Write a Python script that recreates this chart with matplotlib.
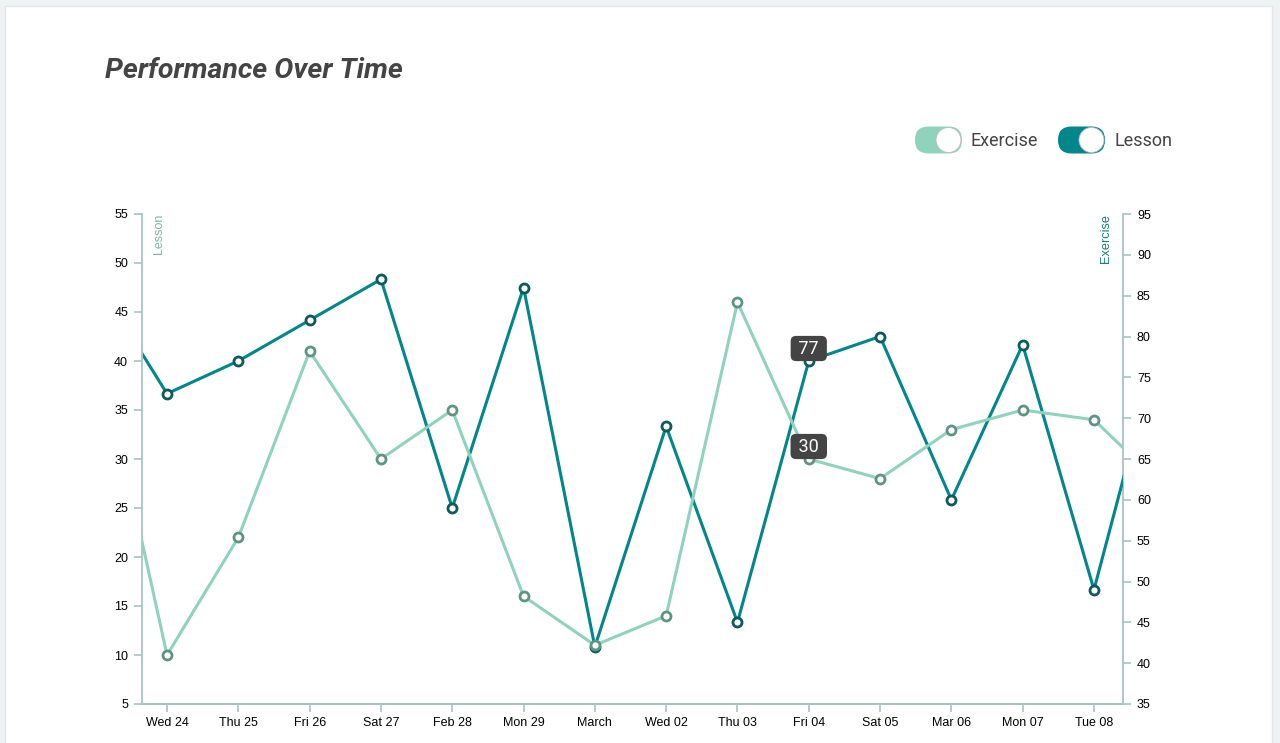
import matplotlib
matplotlib.use("Agg")
import matplotlib.pyplot as plt
from matplotlib.patches import FancyBboxPatch, Circle, Rectangle

# data
days = ["Wed 24", "Thu 25", "Fri 26", "Sat 27", "Feb 28", "Mon 29", "March",
        "Wed 02", "Thu 03", "Fri 04", "Sat 05", "Mar 06", "Mon 07", "Tue 08"]
# light line, left axis (first and last value are the clipped neighbours)
exercise = [43, 10, 22, 41, 30, 35, 16, 11, 14, 46, 30, 28, 33, 35, 34, 27]
# dark line, right axis
lesson = [87, 73, 77, 82, 87, 59, 86, 42, 69, 45, 77, 80, 60, 79, 49, 82]
xs = list(range(-1, len(days) + 1))
tip_idx = 9

c_light = "#8fd3bc"
c_dark = "#00868b"
c_axis = "#a8c4c1"
c_text = "#444444"

fig = plt.figure(figsize=(12.8, 7.43), dpi=100)
fig.patch.set_facecolor("#eef2f3")

# background card + legend drawn in pixel coords
bg = fig.add_axes([0, 0, 1, 1])
bg.set_xlim(0, 1280)
bg.set_ylim(743, 0)
bg.axis("off")
bg.add_patch(Rectangle((5, 6), 1267, 760, facecolor="white", edgecolor="#e2e6e7", lw=1))
bg.text(105, 71, "Performance Over Time", fontsize=20.5, fontweight="bold", fontstyle="italic",
        family="Roboto", color=c_text, va="center", ha="left")

def toggle(x, col, label):
    bg.add_patch(FancyBboxPatch((x, 126.5), 47, 27, boxstyle="round,pad=0,rounding_size=13.5",
                                facecolor=col, edgecolor="none"))
    bg.add_patch(Circle((x + 33.5, 140), 12.5, facecolor="white", edgecolor="#bbbbbb", lw=0.6))
    bg.text(x + 56, 141, label, fontsize=13, family="Roboto", color=c_text, va="center", ha="left")

toggle(915, c_light, "Exercise")
toggle(1058, c_dark, "Lesson")

ax = fig.add_axes([142 / 1280, 1 - 704 / 743, (1123 - 142) / 1280, (704 - 214) / 743])
ax2 = ax.twinx()
ax.set_zorder(2)
ax.patch.set_visible(False)

ax.plot(xs, exercise, color=c_light, lw=2.2, marker="o", ms=6.5, mfc="white",
        mec="#5f9484", mew=2, zorder=3)
ax2.plot(xs, lesson, color=c_dark, lw=2.2, marker="o", ms=6.5, mfc="white",
         mec="#0c5a5c", mew=2, zorder=3)

xl = (-0.351, 13.407)
ax.set_xlim(*xl)
ax2.set_xlim(*xl)
ax.set_ylim(5, 55)
ax2.set_ylim(35, 95)
ax.set_yticks(range(5, 56, 5))
ax2.set_yticks(range(35, 96, 5))
ax.set_xticks(range(len(days)))
ax.set_xticklabels(days)

for a in (ax, ax2):
    for s in a.spines.values():
        s.set_color(c_axis)
        s.set_linewidth(1.3)
    a.spines["top"].set_visible(False)
    a.tick_params(colors=c_axis, labelcolor="black", length=6, width=1.2,
                  labelsize=9, labelfontfamily="Liberation Sans")
ax.spines["right"].set_visible(False)
ax2.spines["left"].set_visible(False)
ax.tick_params(axis="y", pad=4)
ax2.tick_params(axis="y", pad=4)

# axis titles placed inside the plot
ax.text(0.011, 1.0, "Lesson", transform=ax.transAxes, rotation=90, ha="left", va="top",
        fontsize=9, family="Liberation Sans", color="#7fb3a6")
ax.text(0.989, 1.0, "Exercise", transform=ax.transAxes, rotation=90, ha="right", va="top",
        fontsize=9.2, family="Liberation Sans", color="#1a7c7c")

# tooltips
bbox = dict(boxstyle="round,pad=0.2,rounding_size=0.3", fc="#444444", ec="none")
ax2.annotate(" %d " % lesson[tip_idx + 1], (tip_idx, lesson[tip_idx + 1]), xytext=(0, 9),
             textcoords="offset points", ha="center", va="center", color="white",
             fontsize=13, family="Roboto", bbox=bbox, zorder=5)
ax.annotate(" %d " % exercise[tip_idx + 1], (tip_idx, exercise[tip_idx + 1]), xytext=(0, 9),
            textcoords="offset points", ha="center", va="center", color="white",
            fontsize=13, family="Roboto", bbox=bbox, zorder=5)

fig.savefig("out.png", dpi=100)
